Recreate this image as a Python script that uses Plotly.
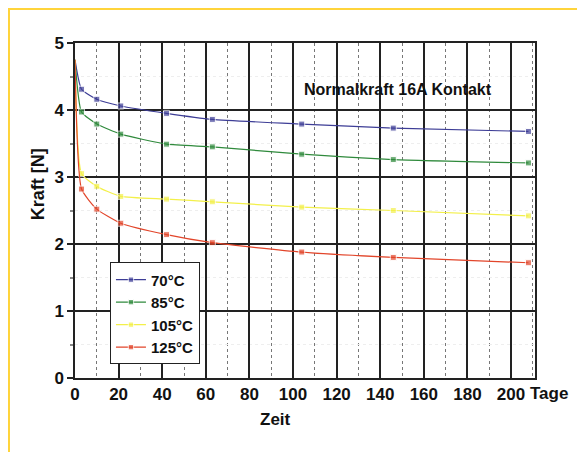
import plotly.graph_objects as go

days = [0, 3, 10, 21, 42, 63, 104, 146, 208]
series_names = ["70°C", "85°C", "105°C", "125°C"]
force_70 = [4.75, 4.31, 4.16, 4.06, 3.95, 3.86, 3.79, 3.73, 3.68]
force_85 = [4.75, 3.97, 3.79, 3.64, 3.49, 3.45, 3.34, 3.26, 3.21]
force_105 = [4.75, 3.05, 2.86, 2.71, 2.67, 2.63, 2.55, 2.50, 2.42]
force_125 = [4.75, 2.82, 2.52, 2.31, 2.14, 2.02, 1.88, 1.80, 1.72]
x_ticks = [0, 20, 40, 60, 80, 100, 120, 140, 160, 180, 200]
y_ticks = [0, 1, 2, 3, 4, 5]

colors = ["#3d3d96", "#2f8a3c", "#f3f04a", "#e2452a"]
FONT = "Liberation Sans, Arial, sans-serif"

fig = go.Figure()
for name, vals, c in zip(series_names, [force_70, force_85, force_105, force_125], colors):
    fig.add_trace(go.Scatter(
        x=days, y=vals, name=name, mode="lines+markers",
        line=dict(color=c, width=1.2, shape="spline", smoothing=0.5),
        marker=dict(symbol="square", size=[0] + [6] * (len(days) - 1), color=c),
    ))

fig.update_layout(
    width=577, height=444,
    margin=dict(l=67, r=50, t=35, b=74),
    paper_bgcolor="white", plot_bgcolor="white",
    font=dict(family=FONT, color="#111"),
    showlegend=True,
    legend=dict(
        x=0.076, y=0.345, xanchor="left", yanchor="top",
        bgcolor="white", bordercolor="#222", borderwidth=1,
        font=dict(family=FONT, size=15, color="#111", weight="bold"),
        tracegroupgap=0, itemwidth=30,
    ),
    xaxis=dict(
        range=[0, 211], tickvals=x_ticks, ticktext=[f"<b>{v}</b>" for v in x_ticks],
        showline=True, linecolor="#222", linewidth=1.5, mirror=True,
        showgrid=True, gridcolor="#222", gridwidth=1.5,
        ticks="", tickfont=dict(size=17, family=FONT, color="#111"),
        zeroline=False,
        minor=dict(dtick=10, tick0=0, showgrid=True, gridcolor="#777", griddash="dot", gridwidth=1),
    ),
    yaxis=dict(
        range=[0, 5], tickvals=y_ticks, ticktext=[f"<b>{v}</b>" for v in y_ticks],
        showline=True, linecolor="#222", linewidth=1.5, mirror=True,
        showgrid=True, gridcolor="#222", gridwidth=1.5,
        ticks="outside", ticklen=6, tickcolor="#222", tickwidth=1.5,
        tickfont=dict(size=17, family=FONT, color="#111"),
        zeroline=False,
        minor=dict(dtick=0.5, tick0=0, ticks="outside", ticklen=3, tickcolor="#888",
                   showgrid=True, gridcolor="#eeeeee", griddash="dot", gridwidth=1),
    ),
    shapes=[dict(type="rect", xref="paper", yref="paper",
                 x0=-0.1435, x1=1.2, y0=-0.3, y1=1.1015,
                 line=dict(color="#ffd43b", width=2), layer="below")],
    annotations=[
        dict(x=148, y=4.30, xref="x", yref="y", text="<b>Normalkraft 16A Kontakt</b>",
             showarrow=False, font=dict(size=16, family=FONT, color="#111")),
        dict(x=-0.080, y=0.579, xref="paper", yref="paper", text="<b>Kraft [N]</b>",
             textangle=-90, showarrow=False, xanchor="center", yanchor="middle",
             font=dict(size=18, family=FONT, color="#111")),
        dict(x=92, y=-0.125, xref="x", yref="paper", text="<b>Zeit</b>",
             showarrow=False, xanchor="center", yanchor="middle",
             font=dict(size=17, family=FONT, color="#111")),
        dict(x=1.03, y=-0.045, xref="paper", yref="paper", text="<b>Tage</b>",
             showarrow=False, xanchor="center", yanchor="middle",
             font=dict(size=17, family=FONT, color="#111")),
    ],
)

fig.write_html("out.html")
